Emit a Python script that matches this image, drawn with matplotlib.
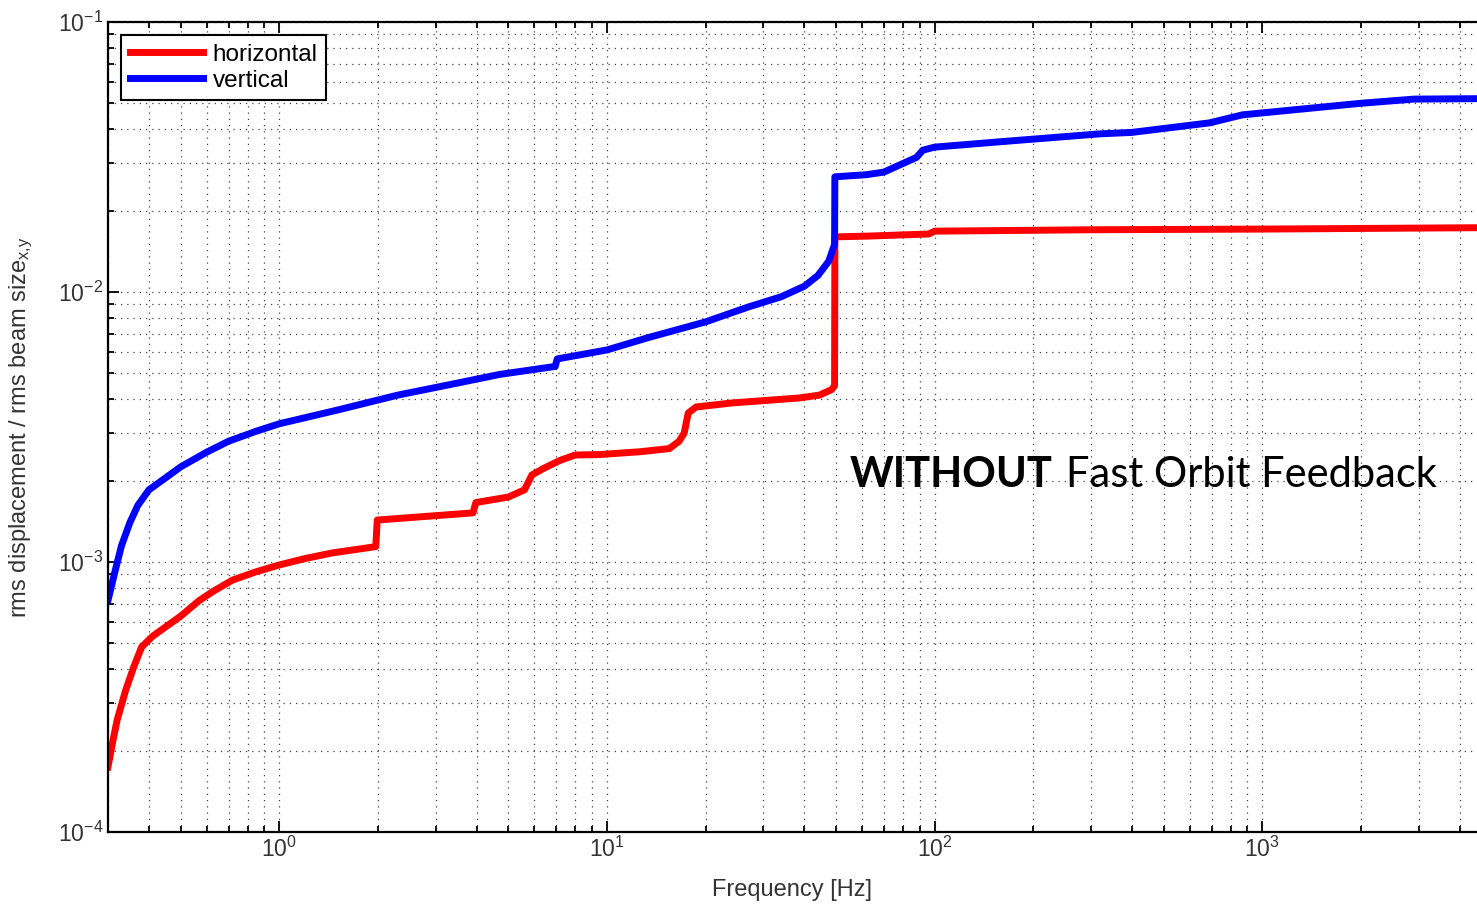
import matplotlib
matplotlib.use("Agg")
import matplotlib.pyplot as plt
from matplotlib.ticker import LogLocator, NullFormatter

plt.rcParams['font.family'] = ['Liberation Sans', 'DejaVu Sans']
plt.rcParams['mathtext.fontset'] = 'custom'
plt.rcParams['mathtext.rm'] = 'Liberation Sans'
plt.rcParams['mathtext.it'] = 'Liberation Sans:italic'

# vertical plane, cumulative rms vs frequency
f_vert = [0.30, 0.315, 0.33, 0.35, 0.37, 0.40, 0.45, 0.50, 0.60, 0.70, 0.85, 1.0,
          1.5, 2.3, 3.5, 4.7, 6.95, 7.05, 10, 13.5, 20, 27, 34, 40, 44, 47.5, 49.5,
          49.6, 62, 70, 78, 88, 92, 100, 158, 317, 400, 690, 870, 2000, 2900, 4520]
v_vert = [7.2e-4, 9.2e-4, 1.15e-3, 1.4e-3, 1.62e-3, 1.85e-3, 2.05e-3, 2.25e-3,
          2.55e-3, 2.8e-3, 3.05e-3, 3.25e-3, 3.65e-3, 4.15e-3, 4.6e-3, 4.95e-3,
          5.3e-3, 5.65e-3, 6.1e-3, 6.8e-3, 7.75e-3, 8.8e-3, 9.6e-3, 1.05e-2,
          1.15e-2, 1.3e-2, 1.5e-2, 2.67e-2, 2.72e-2, 2.78e-2, 2.95e-2, 3.15e-2,
          3.35e-2, 3.44e-2, 3.6e-2, 3.85e-2, 3.9e-2, 4.23e-2, 4.53e-2, 5.0e-2,
          5.18e-2, 5.2e-2]

# horizontal plane
f_hor = [0.30, 0.31, 0.32, 0.34, 0.36, 0.38, 0.41, 0.45, 0.50, 0.57, 0.63, 0.72,
         0.85, 1.0, 1.2, 1.45, 1.97, 1.99, 3.9, 3.98, 5.0, 5.6, 5.9, 6.4, 7.2,
         8.0, 9.5, 12.6, 15.5, 16.6, 17.2, 17.7, 18.7, 24, 38.6, 44.5, 48.5, 49.5,
         49.6, 62, 96, 100, 300, 1000, 4520]
v_hor = [1.74e-4, 2.15e-4, 2.6e-4, 3.36e-4, 4.1e-4, 4.84e-4, 5.3e-4, 5.75e-4,
         6.3e-4, 7.2e-4, 7.8e-4, 8.57e-4, 9.2e-4, 9.75e-4, 1.03e-3, 1.08e-3,
         1.14e-3, 1.43e-3, 1.52e-3, 1.66e-3, 1.74e-3, 1.85e-3, 2.1e-3, 2.22e-3,
         2.38e-3, 2.49e-3, 2.5e-3, 2.56e-3, 2.63e-3, 2.8e-3, 3.0e-3, 3.56e-3,
         3.75e-3, 3.88e-3, 4.05e-3, 4.15e-3, 4.35e-3, 4.5e-3, 1.6e-2, 1.61e-2,
         1.64e-2, 1.68e-2, 1.7e-2, 1.71e-2, 1.73e-2]

fig = plt.figure(figsize=(14.77, 9.05), dpi=100)
ax = fig.add_axes([0.0731, 0.0807, 0.9269, 0.895])

ax.plot(f_hor, v_hor, color='#ff0000', lw=5, label='horizontal')
ax.plot(f_vert, v_vert, color='#0000ff', lw=5, label='vertical')

ax.set_xscale('log')
ax.set_yscale('log')
ax.set_xlim(0.3, 4520)
ax.set_ylim(1e-4, 1e-1)

ax.xaxis.set_major_locator(LogLocator(base=10, numticks=10))
ax.xaxis.set_minor_locator(LogLocator(base=10, subs=range(2, 10), numticks=20))
ax.yaxis.set_minor_locator(LogLocator(base=10, subs=range(2, 10), numticks=20))
ax.xaxis.set_minor_formatter(NullFormatter())
ax.yaxis.set_minor_formatter(NullFormatter())

ax.grid(True, which='both', linestyle=(0, (1, 4)), color='#444444', lw=0.9)
ax.tick_params(which='both', direction='in', top=True, right=False,
               labelsize=16.5, width=1.3, labelcolor='#333333')
ax.tick_params(which='major', length=8)
ax.tick_params(which='minor', length=4)
for s in ['left', 'bottom', 'top']:
    ax.spines[s].set_linewidth(1.6)
ax.spines['right'].set_visible(False)

ax.set_xlabel('Frequency [Hz]', fontsize=17, color='#333333', labelpad=12)
ax.set_ylabel('rms displacement / rms beam size$_{\\mathrm{x{,}y}}$', fontsize=17,
              color='#333333', labelpad=16)

leg = ax.legend(loc='upper left', fontsize=17.5, fancybox=False, framealpha=1,
                edgecolor='black', handlelength=3.0, handletextpad=0.4,
                borderpad=0.35, labelspacing=0.15, borderaxespad=0.55)
leg.get_frame().set_linewidth(1.5)

ax.text(0.542, 0.441, 'WITHOUT', transform=ax.transAxes, fontsize=30,
        fontweight='bold', family=['Lato', 'DejaVu Sans'], ha='left', va='center')
ax.text(0.700, 0.441, 'Fast Orbit Feedback', transform=ax.transAxes, fontsize=30,
        family=['Lato', 'DejaVu Sans'], ha='left', va='center')

fig.savefig('out.png', dpi=100)
